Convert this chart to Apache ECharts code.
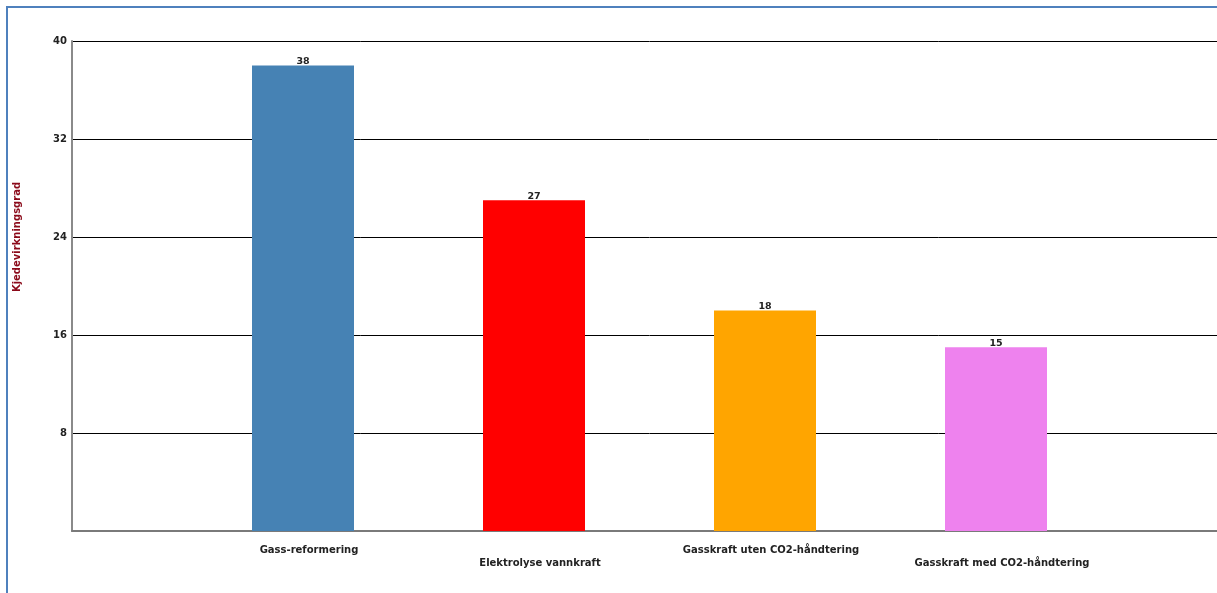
<!DOCTYPE html>
<html><head><meta charset="utf-8">
<script src="https://cdn.jsdelivr.net/npm/echarts@6/dist/echarts.min.js"></script>
<style>
html,body{margin:0;padding:0;width:1217px;height:593px;overflow:hidden;background:#fff;position:relative;}
#frame{position:absolute;left:6px;top:6px;width:1400px;height:800px;border:2px solid #4f81bd;box-sizing:border-box;}
#chart{position:absolute;left:0;top:0;width:1250px;height:593px;}
</style></head>
<body>
<div id="frame"></div>
<div id="chart"></div>
<script>
const categories = ['Gass-reformering', 'Elektrolyse vannkraft', 'Gasskraft uten CO2-håndtering', 'Gasskraft med CO2-håndtering'];
const values = [38, 27, 18, 15];
const colors = ['#4682b4', '#ff0000', '#ffa500', '#ee82ee'];
const yTicks = [0, 8, 16, 24, 32, 40];
const yTitle = 'Kjedevirkningsgrad';

const xData = [''].concat(categories).concat(['']);
const seriesData = [null].concat(values.map((v, i) => ({ value: v, itemStyle: { color: colors[i] } }))).concat([null]);

const chart = echarts.init(document.getElementById('chart'), null, { renderer: 'canvas' });
chart.setOption({
  animation: false,
  textStyle: { fontFamily: 'DejaVu Sans' },
  grid: { left: 72, top: 41, width: 1155, height: 490, containLabel: false },
  xAxis: {
    type: 'category',
    data: xData,
    boundaryGap: false,
    axisLine: { show: true, lineStyle: { color: '#7a7a7a', width: 2 } },
    axisTick: { show: false },
    splitLine: { show: false },
    axisLabel: {
      interval: 0,
      margin: 13,
      fontSize: 10,
      fontWeight: 'bold',
      color: '#222',
      lineHeight: 13,
      padding: [0, 0, 0, 12],
      formatter: (v, i) => (i % 2 === 0 ? '\n' + v : v)
    }
  },
  yAxis: {
    type: 'value',
    min: yTicks[0],
    max: yTicks[yTicks.length - 1],
    interval: 8,
    axisLine: { show: true, lineStyle: { color: '#8a8a8a', width: 2 } },
    axisTick: { show: false },
    splitLine: { show: true, lineStyle: { color: '#000', width: 1 } },
    axisLabel: {
      margin: 5,
      fontSize: 10,
      fontWeight: 'bold',
      color: '#222',
      formatter: v => (v === 0 ? '' : String(v))
    }
  },
  graphic: [{
    type: 'text',
    x: 17,
    y: 237,
    rotation: Math.PI / 2,
    style: {
      text: yTitle,
      fontSize: 10,
      fontWeight: 'bold',
      fontFamily: 'DejaVu Sans',
      fill: '#8b0a1a',
      align: 'center',
      verticalAlign: 'middle'
    }
  }],
  series: [{
    type: 'bar',
    data: seriesData,
    barWidth: 102,
    label: {
      show: true,
      position: 'top',
      distance: -1,
      fontSize: 9.5,
      fontWeight: 'bold',
      color: '#222'
    }
  }]
});
</script>
</body></html>
